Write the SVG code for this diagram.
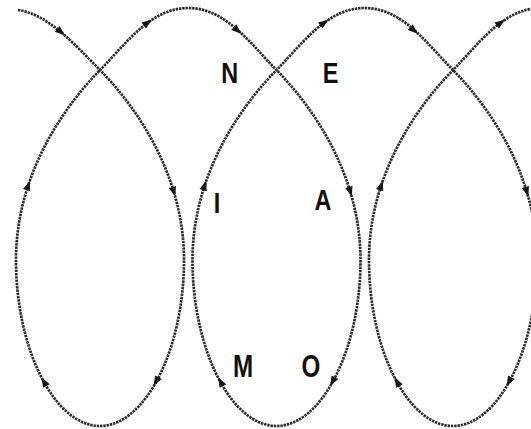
<svg xmlns="http://www.w3.org/2000/svg" xmlns:xlink="http://www.w3.org/1999/xlink" width="531" height="429" viewBox="0 0 531 429">
<style>
.curve{fill:none;stroke:#2b2b2b;stroke-width:2.7;stroke-dasharray:2.4 0.9;stroke-linecap:butt}
.ah{fill:#161616}
.lbl{font-family:"Liberation Sans",Arial,sans-serif;font-weight:bold;fill:#111;text-anchor:middle}
</style>
<defs>
<path id="ah" class="ah" d="M5,0 L-5,-3.8 L-5,3.8 Z"/>
</defs>
<rect width="531" height="429" fill="#fff"/>
<g id="connectors">
<path class="curve" d="M18 10 C48 14 75 45 100 70
C142 113 184 180 184 260
C184 350 145 426 100 426
C55 426 16 350 16 260
C16 180 58 113 100 70
C125 45 150 8 188.25 8
C226.25 8 251.5 45 276.5 70
C318.5 113 360.5 180 360.5 260
C360.5 350 321.5 426 276.5 426
C231.5 426 192.5 350 192.5 260
C192.5 180 234.5 113 276.5 70
C301.5 45 326.5 8 364.75 8
C402.75 8 428 45 453 70
C495 113 537 180 537 260
C537 350 498 426 453 426
C408 426 369 350 369 260
C369 180 411 113 453 70
C478 45 503 8 541 8"/>
<g id="arrows">
<use xlink:href="#ah" transform="translate(61,32) rotate(40)"/>
<use xlink:href="#ah" transform="translate(173.8,191.8) rotate(73.3)"/>
<use xlink:href="#ah" transform="translate(156,381.6) rotate(119)"/>
<use xlink:href="#ah" transform="translate(44,381.6) rotate(241)"/>
<use xlink:href="#ah" transform="translate(28.2,185.4) rotate(-71.8)"/>
<use xlink:href="#ah" transform="translate(147.8,22.6) rotate(-36.2)"/>
<use xlink:href="#ah" transform="translate(237.5,30.5) rotate(41.2)"/>
<use xlink:href="#ah" transform="translate(350.3,191.8) rotate(73.3)"/>
<use xlink:href="#ah" transform="translate(332.5,381.6) rotate(119)"/>
<use xlink:href="#ah" transform="translate(220.5,381.6) rotate(241)"/>
<use xlink:href="#ah" transform="translate(204.7,185.4) rotate(-71.8)"/>
<use xlink:href="#ah" transform="translate(324.3,22.6) rotate(-36.2)"/>
<use xlink:href="#ah" transform="translate(414,30.5) rotate(41.2)"/>
<use xlink:href="#ah" transform="translate(526.8,191.8) rotate(73.3)"/>
<use xlink:href="#ah" transform="translate(509,381.6) rotate(119)"/>
<use xlink:href="#ah" transform="translate(397,381.6) rotate(241)"/>
<use xlink:href="#ah" transform="translate(381.2,185.4) rotate(-71.8)"/>
<use xlink:href="#ah" transform="translate(500.8,22.6) rotate(-36.2)"/>
</g>
</g>
<g id="label-N"><text class="lbl" font-size="30" transform="translate(229.7,83) scale(0.78,1)">N</text></g>
<g id="label-E"><text class="lbl" font-size="30" transform="translate(330.5,83) scale(0.78,1)">E</text></g>
<g id="label-I"><text class="lbl" font-size="30" transform="translate(217,213) scale(0.78,1)">I</text></g>
<g id="label-A"><text class="lbl" font-size="30" transform="translate(323,210) scale(0.78,1)">A</text></g>
<g id="label-M"><text class="lbl" font-size="31" transform="translate(243,377) scale(0.78,1)">M</text></g>
<g id="label-O"><text class="lbl" font-size="31" transform="translate(311,377) scale(0.78,1)">O</text></g>
</svg>
